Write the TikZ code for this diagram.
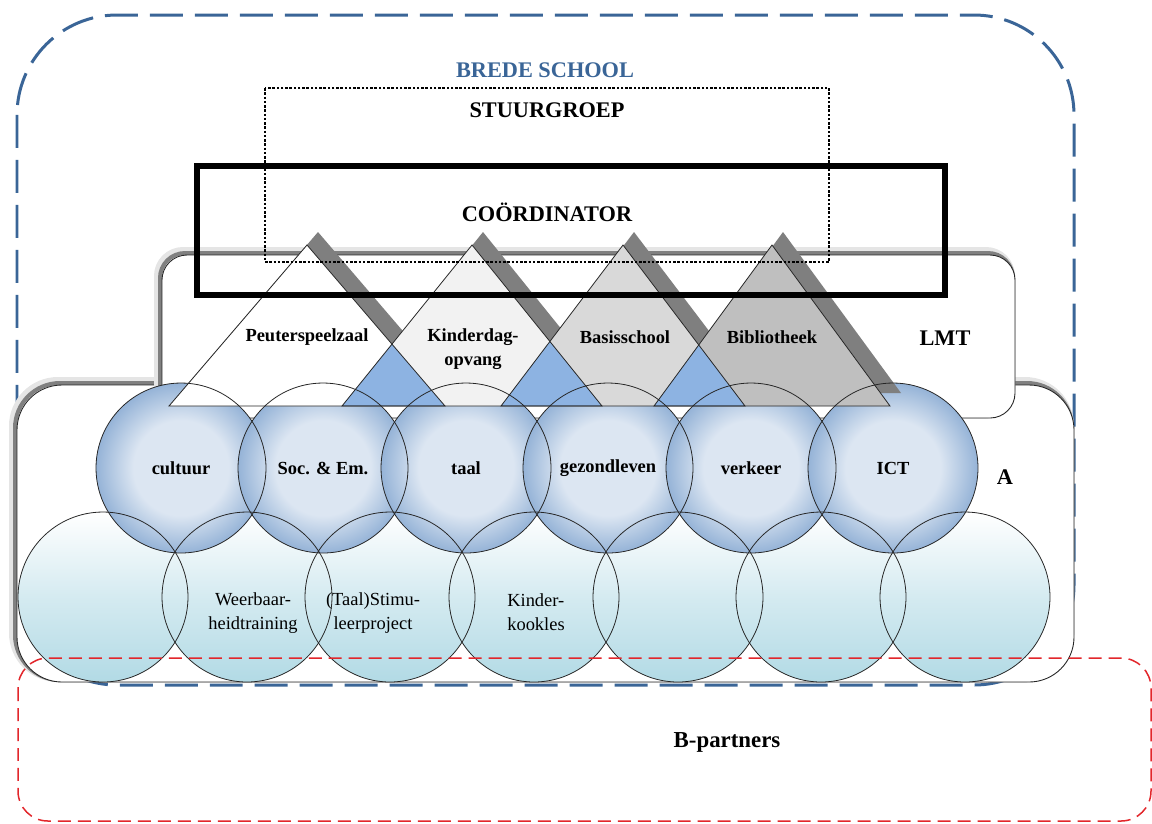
\documentclass[tikz,border=0pt]{standalone}
\usepackage{fontspec}
\setmainfont{Liberation Serif}
\usepackage{tikz}
\usetikzlibrary{positioning}

\definecolor{schoolblue}{HTML}{3A6597}
\definecolor{partnerred}{HTML}{E2262B}
\definecolor{topinner}{HTML}{DCE6F2}
\definecolor{topouter}{HTML}{95B3D7}
\definecolor{botteal}{HTML}{B2DAE5}
\definecolor{overlapblue}{HTML}{8DB3E2}
\definecolor{shadowgray}{HTML}{7F7F7F}
\definecolor{tritwo}{HTML}{F2F2F2}
\definecolor{trithree}{HTML}{D9D9D9}
\definecolor{trifour}{HTML}{BFBFBF}
\pgfdeclareradialshading{ballshade}{\pgfpoint{0bp}{0bp}}{color(0bp)=(topinner); color(14bp)=(topinner); color(25bp)=(topouter); color(50bp)=(topouter)}

\begin{document}
\begin{tikzpicture}[
    x=0.02cm, y=-0.02cm,
    head/.style={font=\fontsize{12.7}{15}\selectfont\bfseries},
    lbl/.style={font=\fontsize{10.5}{13.8}\selectfont\bfseries, align=center},
    plain/.style={font=\fontsize{10.5}{13.8}\selectfont, align=center},
    topcirc/.style={circle, minimum size=3.4cm, inner sep=0pt, shading=ballshade, lbl},
    botcirc/.style={circle, minimum size=3.4cm, inner sep=0pt, top color=white, bottom color=botteal, middle color=botteal!55!white},
    ring/.style={draw=black!85, line width=0.45pt},
    tri/.style={draw=black!85, line width=0.45pt},
    panel/.style={fill=white, draw=black!85, line width=0.5pt},
    glow/.style={line width=0.16cm, draw=black!10},
    rim/.style={line width=0.08cm, draw=black!50},
]
\useasboundingbox (0,0) rectangle (1152,823);

% Brede school frame
\draw[schoolblue, line width=0.06cm, dash pattern=on 0.66cm off 0.24cm, rounded corners=2cm] (17,15) rectangle (1074,685);
\node[head, text=schoolblue] (brede) at (545,70) {BREDE SCHOOL};

% A panel
\draw[glow, rounded corners=0.9cm] (13,381) rectangle (1070,678);
\draw[rim, rounded corners=0.9cm] (15,383) rectangle (1072,680);
\draw[panel, rounded corners=0.9cm] (17,385) rectangle (1074,682);

% LMT panel
\draw[glow, rounded corners=0.5cm] (158,251) rectangle (1011,414);
\draw[rim, rounded corners=0.5cm] (160,253) rectangle (1013,416);
\draw[panel, rounded corners=0.5cm] (162,255) rectangle (1015,418);

% Bottom row of circles
\node[botcirc] (bot1) at (103,597) {};
\node[botcirc] (bot2) at (247,597) {};
\node[botcirc] (bot3) at (390,597) {};
\node[botcirc] (bot4) at (534,597) {};
\node[botcirc] (bot5) at (678,597) {};
\node[botcirc] (bot6) at (821,597) {};
\node[botcirc] (bot7) at (965,597) {};

% Top row of circles
\node[topcirc] (cultuur) at (181,468) {cultuur};
\node[topcirc] (socem) at (323,468) {Soc. \& Em.};
\node[topcirc] (taal) at (466,468) {taal};
\node[topcirc] (gezond) at (608,468) {gezondleven};
\node[topcirc] (verkeer) at (751,468) {verkeer};
\node[topcirc] (ict) at (893,468) {ICT};

% Organisations (triangles with shadow)
\foreach \ax/\hw/\col [count=\i] in {307/138/white, 472/130/tritwo, 623/122/trithree, 772/118/trifour} {
  \fill[shadowgray] (\ax+11,232) -- (\ax+\hw+11,393) -- (\ax-\hw+11,393) -- cycle;
  \fill[\col] (\ax,245) coordinate (t\i a) -- (\ax+\hw,406) coordinate (t\i r) -- (\ax-\hw,406) coordinate (t\i l) -- cycle;
}
\foreach \i/\j in {1/2, 2/3, 3/4} {
  \begin{scope}
    \clip (t\i a) -- (t\i r) -- (t\i l) -- cycle;
    \fill[overlapblue] (t\j a) -- (t\j r) -- (t\j l) -- cycle;
  \end{scope}
}
\foreach \i in {1,...,4}
  \draw[tri] (t\i a) -- (t\i r) -- (t\i l) -- cycle;

\node[lbl] (psz) at (307,337) {Peuterspeelzaal};
\node[lbl] (kdv) at (473,349) {Kinderdag-\\opvang};
\node[lbl] (bas) at (625,337) {Basisschool};
\node[lbl] (bib) at (772,337) {Bibliotheek};

% Circle outlines on top
\foreach \n in {bot1,bot2,bot3,bot4,bot5,bot6,bot7,cultuur,socem,taal,gezond,verkeer,ict}
  \draw[ring] (\n.center) circle[radius=1.7cm];

\node[plain] (weerbaar) at (253,613) {Weerbaar-\\heidtraining};
\node[plain] (stimu) at (373,613) {(Taal)Stimu-\\leerproject};
\node[plain, align=left] (kook) at (536,612) {Kinder-\\kookles};

% B-partners
\draw[partnerred, line width=0.03cm, dash pattern=on 0.26cm off 0.14cm, rounded corners=0.6cm] (18,658) rectangle (1151,821);
\node[head, font=\fontsize{13}{15}\selectfont\bfseries] (bpart) at (727,742) {B-partners};

% Stuurgroep and coordinator
\draw[line width=0.045cm, dash pattern=on 0.05cm off 0.035cm] (265,88) rectangle (829,262);
\node[head] (stuur) at (547,110) {STUURGROEP};
\draw[line width=0.12cm] (197,166) rectangle (945,295);
\node[head] (coord) at (547,212) {COÖRDINATOR};

% Panel labels
\node[head] (lmt) at (945,338) {LMT};
\node[head] (akring) at (1005,477) {A};
\end{tikzpicture}
\end{document}
